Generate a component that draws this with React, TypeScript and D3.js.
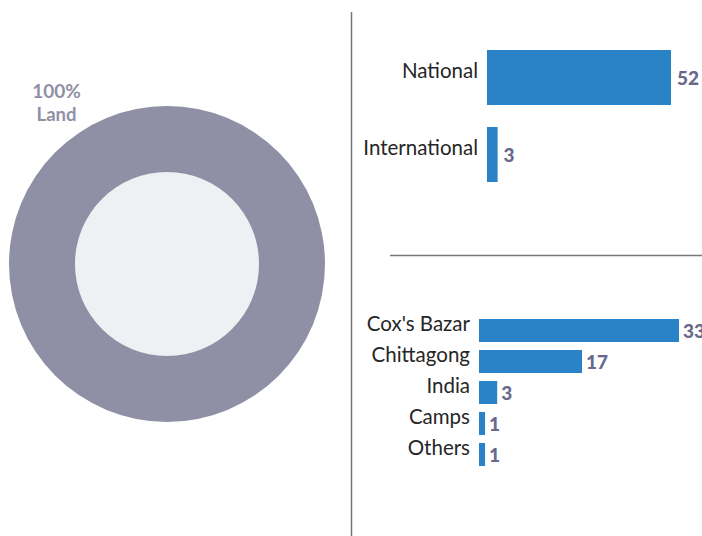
import React from "react";
import * as d3 from "d3";

const donutLabels = ["Land"];
const donutValues = [100];

const typeCategories = ["National", "International"];
const typeValues = [52, 3];

const originCategories = ["Cox's Bazar", "Chittagong", "India", "Camps", "Others"];
const originValues = [33, 17, 3, 1, 1];

const W = 702;
const H = 536;

export default function App() {
  const cx = 167, cy = 264, rOuter = 158, rInner = 92;
  const pie = d3.pie<number>().sort(null)(donutValues);
  const arc = d3.arc<d3.PieArcDatum<number>>().innerRadius(rInner).outerRadius(rOuter);

  const xTop = d3.scaleLinear().domain([0, 52]).range([487, 671]);
  const yTop = d3.scaleBand().domain(typeCategories).range([50, 182]).paddingInner(22 / 77).paddingOuter(0);

  const xBot = d3.scaleLinear().domain([0, 33]).range([479, 679]);
  const yBot = d3.scaleBand().domain(originCategories).range([319, 466]).paddingInner(8 / 31).paddingOuter(0);

  const labelFont = "Lato, 'Open Sans', sans-serif";
  const valColor = "#676a8c";
  const barColor = "#2a83c6";

  return (
    <svg width={W} height={H} style={{ position: "absolute", left: 0, top: 0 }}>
      <rect width={W} height={H} fill="#ffffff" />
      <g transform={`translate(${cx},${cy})`}>
        <circle r={rInner} fill="#eff0f4" />
        {pie.map((p, i) => (
          <path key={i} d={arc(p) || ""} fill="#8f90a6" />
        ))}
      </g>
      <text x={56.5} y={97.5} textAnchor="middle" fontFamily={labelFont} fontWeight="bold" fontSize={19} fill="#8f90a6">
        {donutValues[0]}%
      </text>
      <text x={56.5} y={120.5} textAnchor="middle" fontFamily={labelFont} fontWeight="bold" fontSize={18.5} fill="#8f90a6">
        {donutLabels[0]}
      </text>

      <line x1={351.5} x2={351.5} y1={12} y2={536} stroke="#777" strokeWidth={1.5} />
      <line x1={390} x2={702} y1={255.5} y2={255.5} stroke="#777" strokeWidth={1.5} />

      {typeCategories.map((c, i) => {
        const y = yTop(c)!;
        const h = yTop.bandwidth();
        return (
          <g key={c}>
            <rect x={xTop(0)} y={y} width={xTop(typeValues[i]) - xTop(0)} height={h} fill={barColor} />
            <text x={478} y={y + h / 2 - 7} dy="0.35em" textAnchor="end" fontFamily={labelFont} fontSize={20.5} fill="#262626">
              {c}
            </text>
            <text x={xTop(typeValues[i]) + 6} y={y + h / 2 + 0.5} dy="0.35em" fontFamily={labelFont} fontWeight={900} fontSize={19} fill={valColor}>
              {typeValues[i]}
            </text>
          </g>
        );
      })}

      {originCategories.map((c, i) => {
        const y = yBot(c)!;
        const h = yBot.bandwidth();
        return (
          <g key={c}>
            <rect x={xBot(0)} y={y} width={xBot(originValues[i]) - xBot(0)} height={h} fill={barColor} />
            <text x={470} y={y + h / 2 - 6.5} dy="0.35em" textAnchor="end" fontFamily={labelFont} fontSize={20.5} fill="#262626">
              {c}
            </text>
            <text x={xBot(originValues[i]) + 4} y={y + h / 2 + 1} dy="0.35em" fontFamily={labelFont} fontWeight={900} fontSize={19} fill={valColor}>
              {originValues[i]}
            </text>
          </g>
        );
      })}
    </svg>
  );
}
